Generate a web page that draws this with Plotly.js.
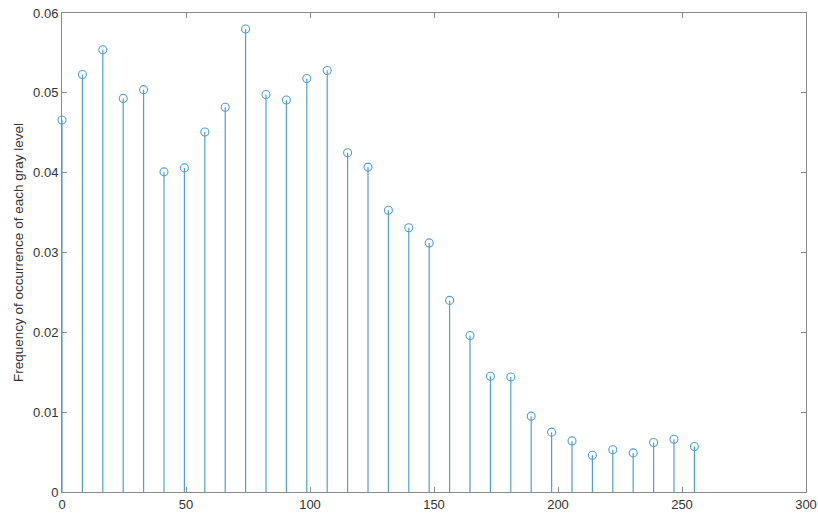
<!DOCTYPE html>
<html>
<head>
<meta charset="utf-8">
<script src="https://cdn.plot.ly/plotly-3.0.1.min.js"></script>
<style>html,body{margin:0;padding:0;background:#fff;}#chart{width:818px;height:516px;}</style>
</head>
<body>
<div id="chart"></div>
<script>
// Gray levels (32 bins from 0 to 255)
const grayLevels = [0, 8.23, 16.45, 24.68, 32.9, 41.13, 49.35, 57.58, 65.81, 74.03, 82.26, 90.48, 98.71, 106.94, 115.16, 123.39,
  131.61, 139.84, 148.06, 156.29, 164.52, 172.74, 180.97, 189.19, 197.42, 205.65, 213.87, 222.1, 230.32, 238.55, 246.77, 255];
// Frequency of occurrence
const frequency = [0.0466, 0.0523, 0.0554, 0.0493, 0.0504, 0.0401, 0.0406, 0.0451, 0.0482, 0.0580, 0.0498, 0.0491, 0.0518, 0.0528, 0.0425, 0.0407,
  0.0353, 0.0331, 0.0312, 0.0240, 0.0196, 0.0145, 0.0144, 0.0095, 0.0075, 0.0064, 0.0046, 0.0053, 0.0049, 0.0062, 0.0066, 0.0057];
const xTicks = [0, 50, 100, 150, 200, 250, 300];
const yTicks = [0, 0.01, 0.02, 0.03, 0.04, 0.05, 0.06];

const color = '#4f9fd6';
const font = 'Liberation Sans, Arial, sans-serif';

const stems = {
  type: 'scatter', mode: 'markers',
  x: grayLevels, y: frequency,
  marker: {symbol: 'circle-open', size: 8, color: color, line: {width: 1.1, color: color}},
  error_y: {type: 'data', symmetric: false, array: frequency.map(() => 0), arrayminus: frequency,
            width: 0, thickness: 1.2, color: color},
  hoverinfo: 'x+y', showlegend: false, cliponaxis: false
};

const axisCommon = {
  showline: true, mirror: 'ticks', linecolor: '#8a8a8a', linewidth: 1,
  ticks: 'inside', ticklen: 5, tickcolor: '#8a8a8a', tickwidth: 1,
  showgrid: false, zeroline: false,
  tickfont: {family: font, size: 13, color: '#333'}
};

const layout = {
  width: 818, height: 516,
  margin: {l: 62, r: 12, t: 13, b: 24},
  paper_bgcolor: '#fff', plot_bgcolor: '#fff',
  xaxis: Object.assign({}, axisCommon, {range: [0, 300], tickvals: xTicks, ticktext: xTicks.map(String)}),
  yaxis: Object.assign({}, axisCommon, {range: [0, 0.06], tickvals: yTicks, ticktext: yTicks.map(String),
    title: {text: 'Frequency of occurrence of each gray level', standoff: 6,
            font: {family: font, size: 13.5, color: '#333'}}}),
  showlegend: false
};

Plotly.newPlot('chart', [stems], layout, {displayModeBar: false, staticPlot: true});
</script>
</body>
</html>
